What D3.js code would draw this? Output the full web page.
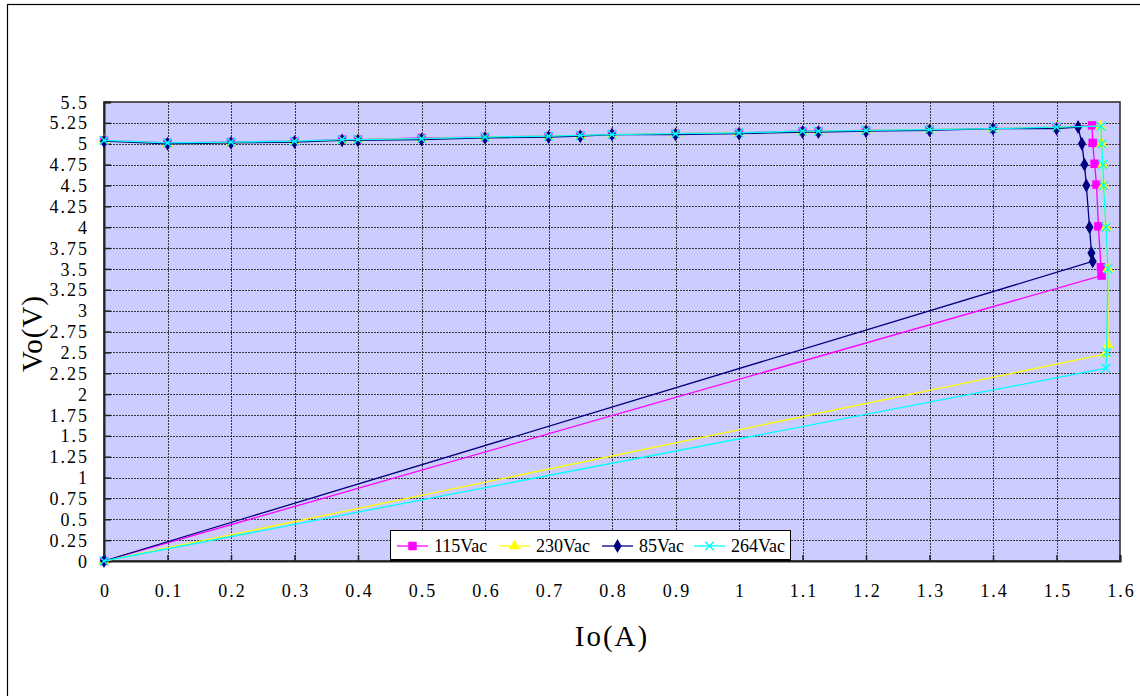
<!DOCTYPE html>
<html>
<head>
<meta charset="utf-8">
<script src="https://cdn.jsdelivr.net/npm/d3@7/dist/d3.min.js"></script>
<style>
  html, body { margin: 0; padding: 0; background: #fff; }
  svg { display: block; }
  text { font-family: "Liberation Serif", "DejaVu Serif", serif; fill: #000; }
</style>
</head>
<body>
<svg id="chart" width="1140" height="696"></svg>
<script>
// Output voltage vs. output current at four input voltages
const seriesNames = ["115Vac", "230Vac", "85Vac", "264Vac"];
const seriesColors = ["#FF00FF", "#FFFF00", "#000080", "#00FFFF"];
const seriesMarkers = ["square", "triangle", "diamond", "cross"];

// Io (A) for each series
const io115 = [0, 0.1, 0.2, 0.3, 0.375, 0.4, 0.5, 0.6, 0.7, 0.75, 0.8, 0.9, 1.0, 1.1, 1.125, 1.2, 1.3, 1.4, 1.5,
               1.556, 1.557, 1.560, 1.563, 1.566, 1.570, 1.571, 0];
const io230 = [0, 0.1, 0.2, 0.3, 0.375, 0.4, 0.5, 0.6, 0.7, 0.75, 0.8, 0.9, 1.0, 1.1, 1.125, 1.2, 1.3, 1.4, 1.5,
               1.569, 1.571, 1.573, 1.574, 1.578, 1.581, 1.581, 1.577, 0];
const io85  = [0, 0.1, 0.2, 0.3, 0.375, 0.4, 0.5, 0.6, 0.7, 0.75, 0.8, 0.9, 1.0, 1.1, 1.125, 1.2, 1.3, 1.4, 1.5,
               1.534, 1.540, 1.544, 1.547, 1.552, 1.555, 1.557, 0];
const io264 = [0, 0.1, 0.2, 0.3, 0.375, 0.4, 0.5, 0.6, 0.7, 0.75, 0.8, 0.9, 1.0, 1.1, 1.125, 1.2, 1.3, 1.4, 1.5,
               1.570, 1.571, 1.573, 1.574, 1.578, 1.581, 1.579, 1.578, 0];

// Vo (V) for each series
const vo115 = [5.04, 5.01, 5.02, 5.03, 5.05, 5.05, 5.07, 5.08, 5.09, 5.10, 5.11, 5.12, 5.13, 5.15, 5.15, 5.16, 5.17, 5.18, 5.20,
               5.22, 5.01, 4.76, 4.51, 4.01, 3.52, 3.42, 0];
const vo230 = [5.04, 5.00, 5.01, 5.03, 5.04, 5.05, 5.06, 5.08, 5.09, 5.10, 5.11, 5.12, 5.13, 5.14, 5.15, 5.16, 5.17, 5.18, 5.20,
               5.21, 5.00, 4.75, 4.50, 4.00, 3.50, 2.59, 2.48, 0];
const vo85  = [5.03, 5.00, 5.01, 5.02, 5.04, 5.04, 5.05, 5.07, 5.08, 5.09, 5.11, 5.11, 5.12, 5.14, 5.14, 5.15, 5.16, 5.18, 5.18,
               5.20, 5.00, 4.75, 4.50, 4.00, 3.69, 3.59, 0];
const vo264 = [5.04, 5.01, 5.02, 5.03, 5.05, 5.05, 5.06, 5.08, 5.09, 5.10, 5.11, 5.12, 5.13, 5.15, 5.15, 5.16, 5.17, 5.18, 5.20,
               5.21, 5.00, 4.75, 4.50, 4.00, 3.50, 2.50, 2.31, 0];

const xTicks = [0, 0.1, 0.2, 0.3, 0.4, 0.5, 0.6, 0.7, 0.8, 0.9, 1, 1.1, 1.2, 1.3, 1.4, 1.5, 1.6];
const xTickLabels = ["0", "0.1", "0.2", "0.3", "0.4", "0.5", "0.6", "0.7", "0.8", "0.9", "1", "1.1", "1.2", "1.3", "1.4", "1.5", "1.6"];
const yTicks = [0, 0.25, 0.5, 0.75, 1, 1.25, 1.5, 1.75, 2, 2.25, 2.5, 2.75, 3, 3.25, 3.5, 3.75, 4, 4.25, 4.5, 4.75, 5, 5.25, 5.5];
const yTickLabels = ["0", "0.25", "0.5", "0.75", "1", "1.25", "1.5", "1.75", "2", "2.25", "2.5", "2.75", "3", "3.25", "3.5", "3.75",
                     "4", "4.25", "4.5", "4.75", "5", "5.25", "5.5"];

const xTitle = "Io(A)";
const yTitle = "Vo(V)";

const series = [
  { name: seriesNames[0], color: seriesColors[0], marker: seriesMarkers[0], x: io115, y: vo115 },
  { name: seriesNames[1], color: seriesColors[1], marker: seriesMarkers[1], x: io230, y: vo230 },
  { name: seriesNames[2], color: seriesColors[2], marker: seriesMarkers[2], x: io85,  y: vo85 },
  { name: seriesNames[3], color: seriesColors[3], marker: seriesMarkers[3], x: io264, y: vo264 }
];

const svg = d3.select("#chart");
const plot = { left: 104, top: 102, right: 1120, bottom: 561 };

const x = d3.scaleLinear().domain([0, 1.6]).range([plot.left, plot.right]);
const y = d3.scaleLinear().domain([0, 5.5]).range([plot.bottom, plot.top]);

// outer chart frame
svg.append("rect")
  .attr("x", 7.5).attr("y", 4.5).attr("width", 1150).attr("height", 710)
  .attr("fill", "#fff").attr("stroke", "#000").attr("stroke-width", 1.2);

// plot background
svg.append("rect")
  .attr("x", plot.left).attr("y", plot.top)
  .attr("width", plot.right - plot.left).attr("height", plot.bottom - plot.top)
  .attr("fill", "#CCCCFF");

// grid
const grid = svg.append("g").attr("stroke", "#383838").attr("stroke-width", 1).attr("stroke-dasharray", "2,1");
grid.selectAll("line.h").data(yTicks.slice(1, -1)).join("line")
  .attr("x1", plot.left).attr("x2", plot.right)
  .attr("y1", d => Math.round(y(d)) + 0.5).attr("y2", d => Math.round(y(d)) + 0.5);
grid.selectAll("line.v").data(xTicks.slice(1, -1)).join("line")
  .attr("y1", plot.top).attr("y2", plot.bottom)
  .attr("x1", d => Math.round(x(d)) + 0.5).attr("x2", d => Math.round(x(d)) + 0.5);

// plot border
svg.append("rect")
  .attr("x", plot.left).attr("y", plot.top)
  .attr("width", plot.right - plot.left).attr("height", plot.bottom - plot.top)
  .attr("fill", "none").attr("stroke", "#333").attr("stroke-width", 1.6);

// axes (ticks pointing inward)
const xAxis = d3.axisBottom(x).tickValues(xTicks).tickSize(-6).tickFormat((d, i) => xTickLabels[i]);
const yAxis = d3.axisLeft(y).tickValues(yTicks).tickSize(-7).tickFormat((d, i) => yTickLabels[i]);

const gx = svg.append("g").attr("transform", `translate(0,${plot.bottom})`).call(xAxis);
gx.select(".domain").attr("stroke", "#222").attr("stroke-width", 2);
gx.selectAll(".tick line").attr("stroke", "#222").attr("stroke-width", 1.5);
gx.selectAll(".tick text")
  .attr("y", 23).attr("dy", "0.71em").attr("dx", 1)
  .style("font-family", "'Liberation Serif', serif").style("font-size", "18px")
  .style("letter-spacing", "2px");

const gy = svg.append("g").attr("transform", `translate(${plot.left},0)`).call(yAxis);
gy.select(".domain").attr("stroke", "#222").attr("stroke-width", 2);
gy.selectAll(".tick line").attr("stroke", "#222").attr("stroke-width", 1.5);
gy.selectAll(".tick text")
  .attr("x", -15).attr("dy", "0.34em")
  .style("font-family", "'Liberation Serif', serif").style("font-size", "18px")
  .style("letter-spacing", "2px");

// axis titles
svg.append("text")
  .attr("x", (plot.left + plot.right) / 2).attr("y", 646)
  .attr("text-anchor", "middle").style("font-size", "29px").style("letter-spacing", "2px")
  .text(xTitle);
svg.append("text")
  .attr("transform", `translate(42,${(plot.top + plot.bottom) / 2 + 2}) rotate(-90)`)
  .attr("text-anchor", "middle").style("font-size", "29px").style("letter-spacing", "1px")
  .text(yTitle);

// marker shapes
const symbolFor = {
  square: d3.symbol().type(d3.symbolSquare).size(72),
  triangle: d3.symbol().type(d3.symbolTriangle).size(56),
  diamond: d3.symbol().type(d3.symbolDiamond).size(56),
  cross: d3.symbol().type(d3.symbolX).size(50)
};

const line = d3.line().x(d => x(d[0])).y(d => y(d[1]));

const layer = svg.append("g");
series.forEach(s => {
  const pts = s.x.map((v, i) => [v, s.y[i]]);
  const g = layer.append("g");
  g.append("path").datum(pts)
    .attr("d", line).attr("fill", "none")
    .attr("stroke", s.color).attr("stroke-width", 1.3);
  g.selectAll("path.m").data(pts).join("path")
    .attr("class", "m")
    .attr("transform", d => `translate(${x(d[0])},${y(d[1])})`)
    .attr("d", symbolFor[s.marker]())
    .attr("fill", s.marker === "cross" ? "none" : s.color)
    .attr("stroke", s.marker === "cross" ? s.color : "none")
    .attr("stroke-width", 1.4);
});

// legend
const legend = svg.append("g");
const lg = { x: 390, y: 530, w: 400, h: 29 };
legend.append("rect")
  .attr("x", lg.x + 0.5).attr("y", lg.y + 0.5).attr("width", lg.w).attr("height", lg.h)
  .attr("fill", "#fff").attr("stroke", "#000").attr("stroke-width", 1);
legend.append("line")
  .attr("x1", lg.x).attr("x2", lg.x + lg.w + 1)
  .attr("y1", lg.y + lg.h + 1.5).attr("y2", lg.y + lg.h + 1.5)
  .attr("stroke", "#000").attr("stroke-width", 1.5);

const entryX = [397, 499, 602, 694];
const ly = lg.y + 16;
series.forEach((s, i) => {
  const ex = entryX[i];
  legend.append("line")
    .attr("x1", ex).attr("x2", ex + 31).attr("y1", ly).attr("y2", ly)
    .attr("stroke", s.color).attr("stroke-width", 1.3);
  legend.append("path")
    .attr("transform", `translate(${ex + 15.5},${ly})`)
    .attr("d", symbolFor[s.marker]())
    .attr("fill", s.marker === "cross" ? "none" : s.color)
    .attr("stroke", s.marker === "cross" ? s.color : "none")
    .attr("stroke-width", 1.4);
  legend.append("text")
    .attr("x", ex + 37).attr("y", ly).attr("dy", "0.35em")
    .style("font-size", "18px")
    .text(s.name);
});
</script>
</body>
</html>
